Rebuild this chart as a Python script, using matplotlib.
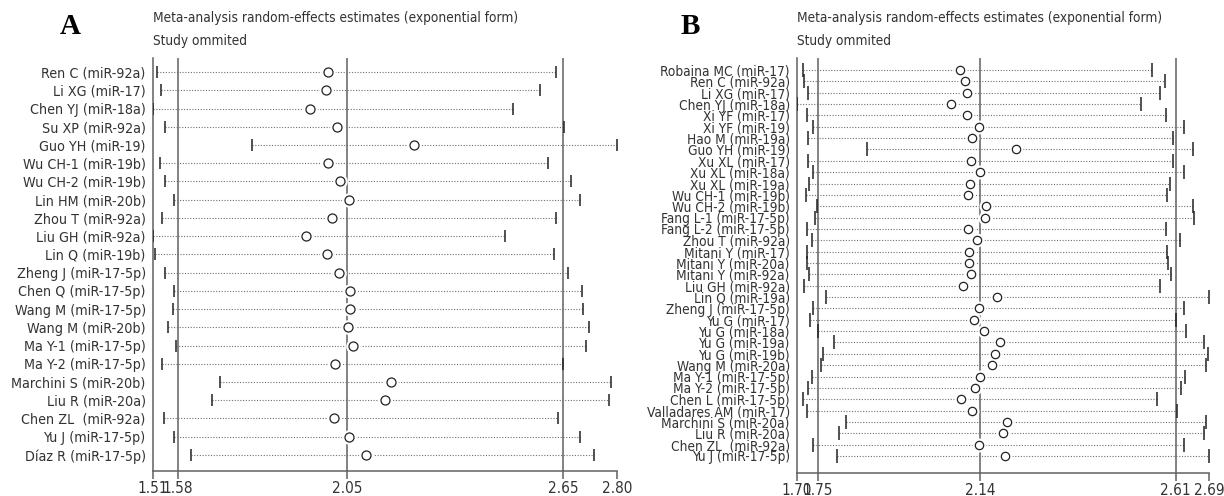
import numpy as np
import matplotlib
matplotlib.use('Agg')
import matplotlib.pyplot as plt
from matplotlib import font_manager

# ------------------------------- panel A data ------------------------------- #
studies_a = ['Ren C (miR-92a)', 'Li XG (miR-17)', 'Chen YJ (miR-18a)', 'Su XP (miR-92a)',
             'Guo YH (miR-19)', 'Wu CH-1 (miR-19b)', 'Wu CH-2 (miR-19b)', 'Lin HM (miR-20b)',
             'Zhou T (miR-92a)', 'Liu GH (miR-92a)', 'Lin Q (miR-19b)', 'Zheng J (miR-17-5p)',
             'Chen Q (miR-17-5p)', 'Wang M (miR-17-5p)', 'Wang M (miR-20b)', 'Ma Y-1 (miR-17-5p)',
             'Ma Y-2 (miR-17-5p)', 'Marchini S (miR-20b)', 'Liu R (miR-20a)', 'Chen ZL  (miR-92a)',
             'Yu J (miR-17-5p)', 'Díaz R (miR-17-5p)']
est_a = [1.998, 1.991, 1.946, 2.022, 2.236, 1.998, 2.030, 2.055, 2.008, 1.935, 1.994,
         2.027, 2.058, 2.058, 2.052, 2.066, 2.016, 2.171, 2.155, 2.013, 2.055, 2.101]
lo_a = [1.522, 1.533, 1.510, 1.544, 1.786, 1.531, 1.545, 1.569, 1.536, 1.510, 1.516,
        1.545, 1.569, 1.566, 1.552, 1.574, 1.537, 1.698, 1.676, 1.540, 1.569, 1.616]
hi_a = [2.631, 2.586, 2.510, 2.652, 2.800, 2.608, 2.672, 2.697, 2.630, 2.487, 2.624,
        2.662, 2.702, 2.705, 2.722, 2.714, 2.650, 2.783, 2.777, 2.636, 2.696, 2.735]
ticks_a = [1.51, 1.58, 2.05, 2.65, 2.80]
refs_a = [1.58, 2.05, 2.65]

# ------------------------------- panel B data ------------------------------- #
studies_b = ['Robaina MC (miR-17)', 'Ren C (miR-92a)', 'Li XG (miR-17)', 'Chen YJ (miR-18a)',
             'Xi YF (miR-17)', 'Xi YF (miR-19)', 'Hao M (miR-19a)', 'Guo YH (miR-19)',
             'Xu XL (miR-17)', 'Xu XL (miR-18a)', 'Xu XL (miR-19a)', 'Wu CH-1 (miR-19b)',
             'Wu CH-2 (miR-19b)', 'Fang L-1 (miR-17-5p)', 'Fang L-2 (miR-17-5p)', 'Zhou T (miR-92a)',
             'Mitani Y (miR-17)', 'Mitani Y (miR-20a)', 'Mitani Y (miR-92a)', 'Liu GH (miR-92a)',
             'Lin Q (miR-19a)', 'Zheng J (miR-17-5p)', 'Yu G (miR-17)', 'Yu G (miR-18a)',
             'Yu G (miR-19a)', 'Yu G (miR-19b)', 'Wang M (miR-20a)', 'Ma Y-1 (miR-17-5p)',
             'Ma Y-2 (miR-17-5p)', 'Chen L (miR-17-5p)', 'Valladares AM (miR-17)',
             'Marchini S (miR-20a)', 'Liu R (miR-20a)', 'Chen ZL  (miR-92a)', 'Yu J (miR-17-5p)']
est_b = [2.091, 2.105, 2.110, 2.070, 2.110, 2.138, 2.120, 2.226, 2.119, 2.140, 2.117, 2.111,
         2.154, 2.152, 2.111, 2.133, 2.113, 2.113, 2.119, 2.099, 2.181, 2.137, 2.125, 2.149,
         2.187, 2.177, 2.170, 2.139, 2.129, 2.095, 2.121, 2.206, 2.196, 2.137, 2.199]
lo_b = [1.715, 1.717, 1.728, 1.700, 1.724, 1.738, 1.728, 1.870, 1.727, 1.740, 1.730, 1.723,
        1.749, 1.745, 1.725, 1.737, 1.725, 1.725, 1.729, 1.717, 1.770, 1.738, 1.732, 1.752,
        1.789, 1.763, 1.759, 1.737, 1.728, 1.715, 1.724, 1.818, 1.801, 1.738, 1.797]
hi_b = [2.554, 2.584, 2.573, 2.526, 2.587, 2.631, 2.603, 2.652, 2.604, 2.630, 2.597, 2.588,
        2.652, 2.655, 2.586, 2.621, 2.590, 2.591, 2.599, 2.573, 2.690, 2.629, 2.610, 2.635,
        2.677, 2.687, 2.682, 2.633, 2.622, 2.565, 2.614, 2.683, 2.679, 2.629, 2.690]
ticks_b = [1.70, 1.75, 2.14, 2.61, 2.69]
refs_b = [1.75, 2.14, 2.61]

TITLE1 = 'Meta-analysis random-effects estimates (exponential form)'
TITLE2 = 'Study ommited'

# --------------- pick a narrow sans if one is installed --------------------- #
fonts = {(f.name, str(f.stretch)) for f in font_manager.fontManager.ttflist}
if any(n == 'Liberation Sans Narrow' for n, s in fonts):
    plt.rcParams['font.family'] = ['Liberation Sans Narrow', 'DejaVu Sans']
    lab_a, lab_b, tick_fs, title_fs = 11.8, 11.3, 12.5, 10.8
elif any(n == 'DejaVu Sans' and s in ('condensed', 'semi-condensed', '87.5', '75')
         for n, s in fonts):
    plt.rcParams['font.family'] = ['DejaVu Sans']
    plt.rcParams['font.stretch'] = 'condensed'
    lab_a, lab_b, tick_fs, title_fs = 10.3, 9.8, 11, 9.8
else:
    plt.rcParams['font.family'] = ['Liberation Sans', 'DejaVu Sans']
    lab_a, lab_b, tick_fs, title_fs = 9.8, 9.5, 11.5, 10
GRAY = '#606060'

fig = plt.figure(figsize=(12.24, 4.96), dpi=100)
W, H = 1224.0, 496.0


def panel(rect, labels, est, lo, hi, ticks, refs, pad_top, pad_bot, cap, circ, lab_fs):
    ax = fig.add_axes(rect)
    n = len(labels)
    y = np.arange(n)
    # ---------------------- reference lines ---------------------- #
    for r in refs:
        ax.axvline(r, color=GRAY, lw=1.1, zorder=1)
    # ------------------- CI dotted lines + caps ------------------ #
    ax.hlines(y, lo, hi, colors='#707070', linestyles=(0, (1, 1.5)), lw=0.8, zorder=2)
    ax.plot(lo, y, ls='none', marker='|', ms=cap, mew=1.1, color='#222222', zorder=3)
    ax.plot(hi, y, ls='none', marker='|', ms=cap, mew=1.1, color='#222222', zorder=3)
    # -------------------- point estimates ------------------------ #
    ax.plot(est, y, ls='none', marker='o', ms=circ + 3, mfc='white', mec='white', zorder=4)
    ax.plot(est, y, ls='none', marker='o', ms=circ, mfc='white', mec='#222222',
            mew=0.9, zorder=5)
    ax.set_xlim(ticks[0], ticks[-1])
    ax.set_ylim(n - 1 + pad_bot, -pad_top)
    ax.set_yticks(y)
    ax.set_yticklabels(labels, fontsize=lab_fs, color='#333333')
    ax.tick_params(axis='y', length=0, pad=5)
    ax.set_xticks(ticks)
    ax.set_xticklabels(['%.2f' % t for t in ticks], fontsize=tick_fs, color='#333333')
    ax.tick_params(axis='x', length=6, width=1.1, color=GRAY, pad=1)
    for s in ('top', 'right'):
        ax.spines[s].set_visible(False)
    for s in ('left', 'bottom'):
        ax.spines[s].set_color(GRAY)
        ax.spines[s].set_linewidth(1.1)
    return ax


# axes geometry in pixels (left, right, top, bottom)
ax_a = panel([152.7 / W, 25 / H, (617.3 - 152.7) / W, (471 - 58) / H],
             studies_a, est_a, lo_a, hi_a, ticks_a, refs_a, 0.77, 0.88, 9, 6.5, lab_a)
ax_b = panel([796.7 / W, 23 / H, (1209 - 796.7) / W, (473 - 58) / H],
             studies_b, est_b, lo_b, hi_b, ticks_b, refs_b, 1.06, 1.5, 10, 6.0, lab_b)

# ------------------------------ titles & misc ------------------------------- #
for x0, letter, lx in ((152.7, 'A', 70), (796.7, 'B', 690)):
    fig.text(x0 / W, 1 - 18 / H, TITLE1, fontsize=title_fs, color='#333333', va='center')
    fig.text(x0 / W, 1 - 41 / H, TITLE2, fontsize=title_fs, color='#333333', va='center')
    fig.text(lx / W, 1 - 26 / H, letter, fontsize=21, fontweight='bold',
             family='Liberation Serif', va='center', ha='center', stretch='normal')

fig.savefig('out.png', dpi=100)
